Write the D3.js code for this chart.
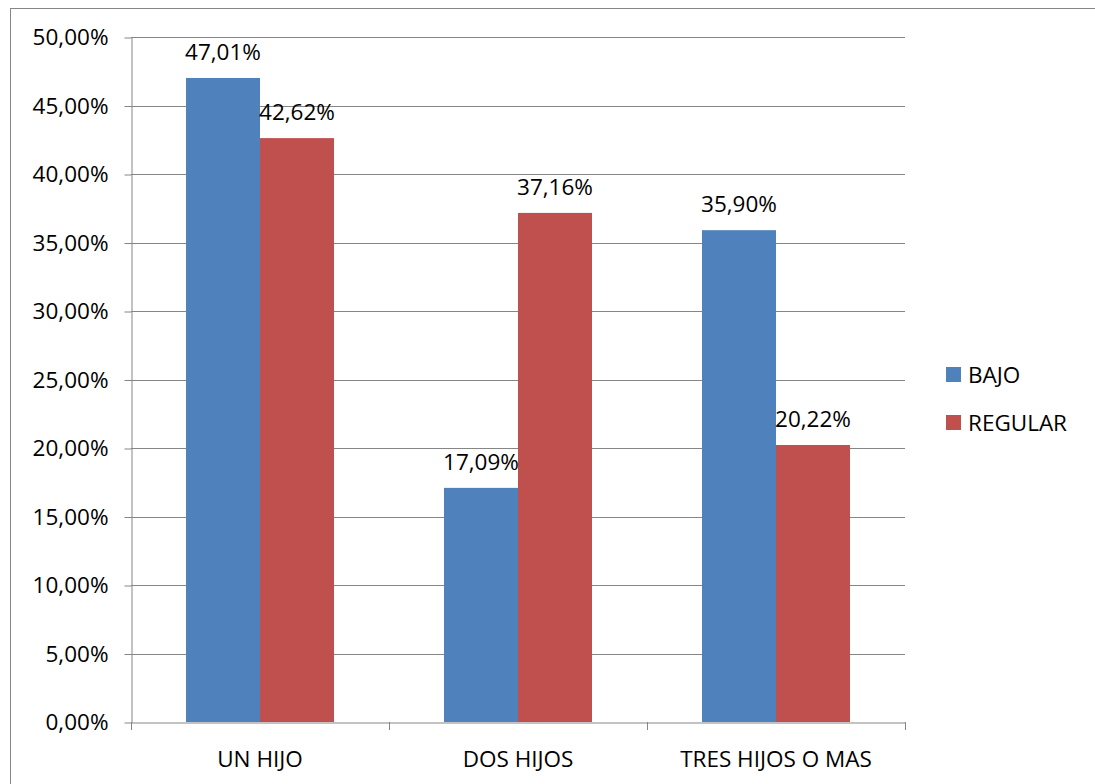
<!DOCTYPE html>
<html><head><meta charset="utf-8">
<script src="https://cdn.jsdelivr.net/npm/d3@7"></script>
<style>body{margin:0;background:#fff}svg{display:block}text{font-family:"Open Sans",sans-serif;fill:#000}</style>
</head><body><svg id="c" width="1095" height="784"></svg>
<script>
const categories = ["UN HIJO", "DOS HIJOS", "TRES HIJOS O MAS"];
const seriesNames = ["BAJO", "REGULAR"];
const bajo = [47.01, 17.09, 35.90];
const regular = [42.62, 37.16, 20.22];
const yTicks = [0, 5, 10, 15, 20, 25, 30, 35, 40, 45, 50];
const colors = ["#4F81BD", "#C0504D"];
const FS = 22.5;

const svg = d3.select("#c");
svg.append("rect").attr("x",10.5).attr("y",8.5).attr("width",1095).attr("height",790)
  .attr("fill","none").attr("stroke","#868686").attr("stroke-width",1);

const L=131, R=905, T=37, B=722;
const y = d3.scaleLinear().domain([0,50]).range([B,T]);
const x0 = d3.scaleBand().domain(categories).range([L,R]).paddingInner(0).paddingOuter(0);
const x1 = d3.scaleBand().domain(seriesNames).range([0,x0.bandwidth()]).paddingInner(0).paddingOuter(0.743);
const fmt = v => v.toFixed(2).replace(".", ",") + "%";

// gridlines
svg.append("g").selectAll("line").data(yTicks.filter(d=>d>0)).join("line")
  .attr("x1",L).attr("x2",R).attr("y1",d=>Math.round(y(d))+0.5).attr("y2",d=>Math.round(y(d))+0.5)
  .attr("stroke","#868686").attr("stroke-width",1);

// y axis
const yAxis = svg.append("g").attr("transform",`translate(${L+0.5},0.5)`)
  .call(d3.axisLeft(y).tickValues(yTicks).tickFormat(fmt).tickSize(7).tickSizeOuter(0));
yAxis.select(".domain").attr("stroke","#868686");
yAxis.selectAll(".tick line").attr("stroke","#868686");
yAxis.selectAll(".tick text").attr("font-size",FS).attr("x",-23).attr("font-family","'Open Sans',sans-serif").attr("fill","#000");

// bars
const data = categories.map((c,i)=>({c, vals:[{s:"BAJO",v:bajo[i]},{s:"REGULAR",v:regular[i]}]}));
const g = svg.append("g").selectAll("g").data(data).join("g").attr("transform",d=>`translate(${x0(d.c)},0)`);
g.selectAll("rect").data(d=>d.vals).join("rect")
  .attr("x",d=>x1(d.s)).attr("width",x1.bandwidth())
  .attr("y",d=>y(d.v)).attr("height",d=>B-y(d.v))
  .attr("fill",(d,i)=>colors[i]);
g.selectAll("text").data(d=>d.vals).join("text")
  .attr("x",d=>x1(d.s)+x1.bandwidth()/2).attr("y",d=>y(d.v)-18)
  .attr("text-anchor","middle").attr("font-size",FS).text(d=>fmt(d.v));

// x axis
const xAxis = svg.append("g").attr("transform",`translate(0,${B+0.5})`)
  .call(d3.axisBottom(x0).tickSize(0).tickSizeOuter(0));
xAxis.select(".domain").attr("stroke","#868686");
xAxis.selectAll(".tick text").attr("font-size",FS).attr("dy","1.85em").attr("font-family","'Open Sans',sans-serif").attr("fill","#000");
svg.append("g").selectAll("line").data([L, ...categories.map(c=>x0(c)+x0.bandwidth())]).join("line")
  .attr("x1",d=>Math.round(d)+0.5).attr("x2",d=>Math.round(d)+0.5).attr("y1",B).attr("y2",B+8)
  .attr("stroke","#868686");

// legend
const lg = svg.append("g").selectAll("g").data(seriesNames).join("g")
  .attr("transform",(d,i)=>`translate(946,${367+i*48})`);
lg.append("rect").attr("width",15).attr("height",15).attr("fill",(d,i)=>colors[i]);
lg.append("text").attr("x",22).attr("y",16).attr("font-size",FS).text(d=>d);
</script></body></html>
